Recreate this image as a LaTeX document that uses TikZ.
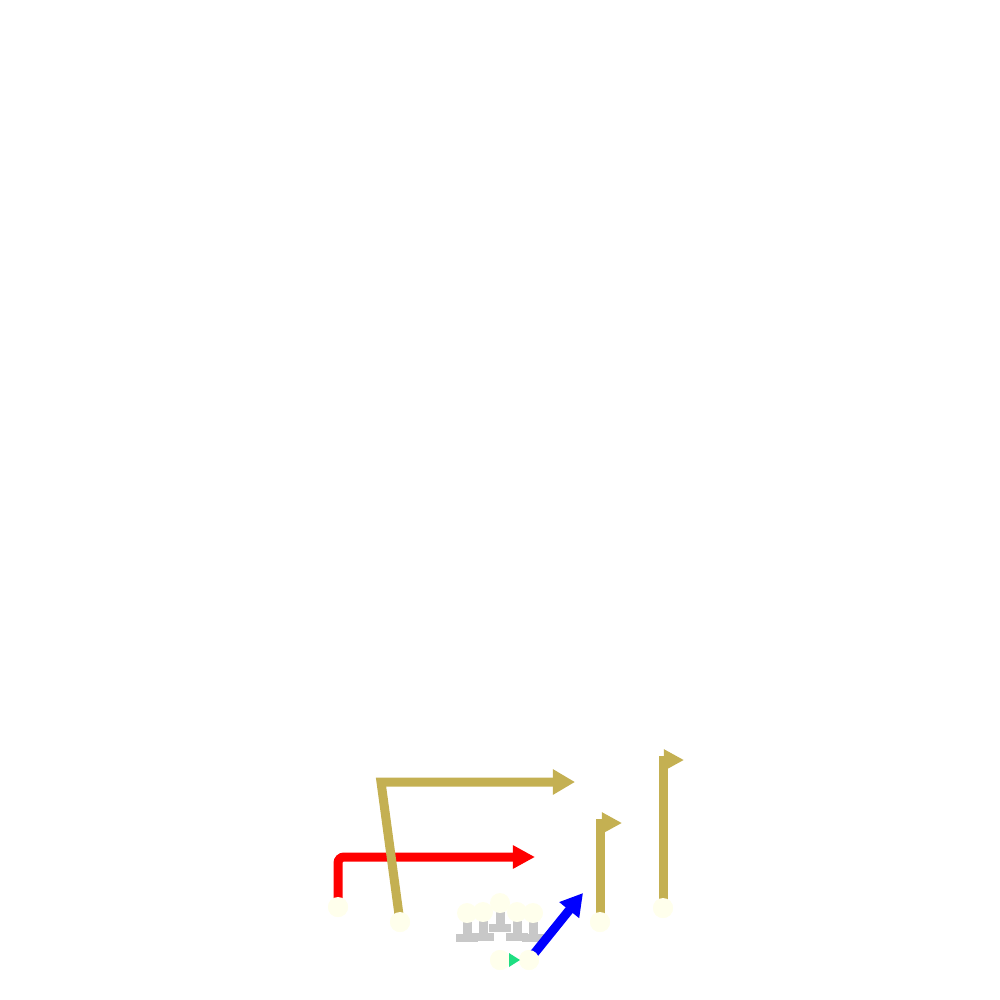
\documentclass[tikz,border=0pt]{standalone}
\usetikzlibrary{arrows.meta}
\definecolor{gold}{RGB}{196,176,82}
\definecolor{ivory}{RGB}{255,255,236}
\definecolor{blockgray}{RGB}{200,200,200}
\definecolor{motiongreen}{RGB}{30,222,130}
\tikzset{
  player/.style={circle,fill=ivory,draw=none,minimum size=0.2cm,inner sep=0pt},
  route/.style={line width=0.09cm,line join=miter},
  goldroute/.style={route,draw=gold,-{Triangle[length=0.22cm,width=0.24cm]}},
  flagroute/.style={route,draw=gold,-{Triangle[length=0.2cm,width=0.2cm]}},
  redroute/.style={route,draw=red,rounded corners=0.06cm,-{Triangle[length=0.22cm,width=0.22cm]}},
  blueroute/.style={route,draw=blue,-{Triangle[length=0.22cm,width=0.24cm]}}
}
\begin{document}
\begin{tikzpicture}[x=0.01cm,y=-0.01cm]
\useasboundingbox (0,0) rectangle (1000,1000);
% blocking marks
\foreach \bx/\by in {467/913,483/912,517/912,533/913,500/903}{
  \fill[blockgray] (\bx-4.5,\by+9) rectangle (\bx+4.5,\by+23);
  \fill[blockgray] (\bx-11,\by+21) rectangle (\bx+11,\by+29);
}
% coordinates for route ends
\coordinate (redend) at (535,857);
\coordinate (goldend) at (575,782);
\coordinate (flagAend) at (622,823);
\coordinate (flagBend) at (684,760);
\coordinate (blueend) at (583,893);
% players
\node[player] (p1) at (338,907) {};
\node[player] (p2) at (400,922) {};
\node[player] (p3) at (600,922) {};
\node[player] (p4) at (663,908) {};
\node[player] (q1) at (500,960) {};
\node[player] (q2) at (529,960) {};
% routes
\draw[redroute] (p1.center) -- (338,857) -- (redend);
\draw[goldroute] (p2.center) -- (381,782) -- (goldend);
\draw[flagroute] (p3.center) -- (600,823) -- (flagAend);
\draw[flagroute] (p4.center) -- (663,760) -- (flagBend);
\draw[blueroute] (q2.center) -- (blueend);
% linemen (on top of blocks)
\foreach \lx/\ly/\nm in {467/913/l1,483/912/l2,500/903/l3,517/912/l4,533/913/l5}{
  \node[player] (\nm) at (\lx,\ly) {};
}
% players on top of routes
\node[player] at (p1) {};
\node[player] at (p2) {};
\node[player] at (p3) {};
\node[player] at (p4) {};
\node[player] at (q1) {};
\node[player] at (q2) {};
% motion mark
\coordinate (gtip) at (520,960);
\fill[motiongreen] (509,953) -- (gtip) -- (509,967) -- cycle;
\end{tikzpicture}
\end{document}
